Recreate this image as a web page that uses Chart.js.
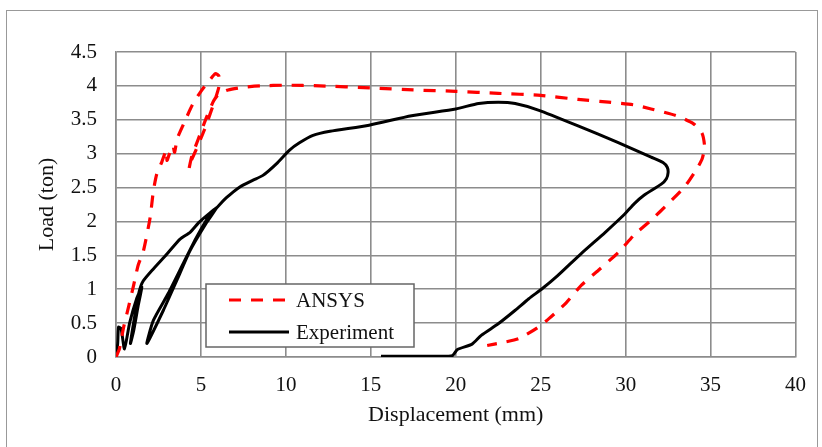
<!DOCTYPE html>
<html>
<head>
<meta charset="utf-8">
<script src="https://cdn.jsdelivr.net/npm/chart.js@4"></script>
<style>
  html, body { margin: 0; padding: 0; background: #fff; }
  canvas { display: block; }
</style>
</head>
<body>
<canvas id="chart" width="822" height="447"></canvas>
<script>
// Load–displacement response: finite-element model vs. laboratory test
const seriesNames = ["ANSYS", "Experiment"];

const ansysDisp = [0, 0.2, 0.45, 0.75, 1.03, 1.3, 1.62, 2.01, 2.2, 2.4, 2.7, 2.9, 2.98, 3.0, 3.15, 3.35, 3.45, 3.6, 4.0, 4.5, 5.0, 5.5, 5.85, 6.05, 6.05, 5.7, 5.2, 4.7, 4.35, 4.3, 4.45, 4.85, 5.35, 5.75, 6.05, 6.6, 7.5, 8.5, 10, 12, 15, 17.5, 20, 22.5, 25, 27.2, 29, 30.5, 31.5, 33, 34, 34.5, 34.65, 34.5, 34.2, 33.5, 32.5, 31.5, 30.5, 29.6, 28.4, 27.4, 26.5, 25.5, 24.8, 23.7, 22.7, 21.85];
const ansysLoad = [0, 0.12, 0.44, 0.75, 1.05, 1.35, 1.57, 2.06, 2.45, 2.7, 2.88, 3.02, 3.05, 2.9, 3.0, 3.12, 3.02, 3.22, 3.45, 3.72, 3.92, 4.08, 4.18, 4.15, 3.98, 3.7, 3.35, 3.05, 2.85, 2.78, 2.95, 3.22, 3.55, 3.78, 3.88, 3.94, 3.98, 4.0, 4.01, 4.0, 3.97, 3.94, 3.92, 3.89, 3.86, 3.8, 3.76, 3.72, 3.66, 3.56, 3.44, 3.3, 3.1, 2.92, 2.78, 2.52, 2.26, 2.02, 1.8, 1.55, 1.28, 1.06, 0.8, 0.57, 0.43, 0.27, 0.21, 0.17];

const expDisp = [0, 0.1, 0.15, 0.3, 0.5, 0.8, 1.2, 1.52, 1.3, 1.05, 0.85, 1.1, 1.35, 1.6, 2.2, 3.0, 3.77, 4.36, 4.9, 5.5, 5.92, 5.3, 4.36, 3.58, 2.79, 1.82, 2.2, 3.08, 3.96, 4.75, 5.53, 5.92, 6.5, 7.29, 8.07, 8.65, 9.44, 10.2, 10.8, 11.6, 12.6, 14.9, 17.4, 20.0, 21.35, 22.5, 23.5, 24.9, 27.2, 29.5, 31.5, 32.2, 32.45, 32.5, 32.4, 32.1, 31.1, 30.5, 29.95, 28.8, 27.4, 26.0, 25.1, 24.3, 23.5, 22.5, 21.5, 20.96, 20.1, 19.8, 19.0, 15.6];
const expLoad = [0, 0.2, 0.44, 0.42, 0.12, 0.5, 0.85, 1.03, 0.75, 0.4, 0.2, 0.6, 0.95, 1.12, 1.3, 1.52, 1.74, 1.84, 1.99, 2.12, 2.2, 1.97, 1.57, 1.13, 0.69, 0.2, 0.54, 0.94, 1.38, 1.77, 2.1, 2.2, 2.35, 2.51, 2.61, 2.68, 2.85, 3.05, 3.16, 3.27, 3.33, 3.42, 3.56, 3.66, 3.74, 3.76, 3.74, 3.64, 3.41, 3.17, 2.95, 2.87, 2.8, 2.72, 2.63, 2.55, 2.39, 2.26, 2.11, 1.84, 1.53, 1.2, 1.01, 0.86, 0.69, 0.49, 0.32, 0.19, 0.11, 0.02, 0.01, 0.01];

const xTickValues = [0, 5, 10, 15, 20, 25, 30, 35, 40];
const yTickValues = [0, 0.5, 1, 1.5, 2, 2.5, 3, 3.5, 4, 4.5];

const toPoints = (xs, ys) => xs.map((x, i) => ({ x: x, y: ys[i] }));

const FONT = "'Liberation Serif', 'Times New Roman', serif";
const GRID = "#8c8c8c";

// White page with a thin outer frame
const framePlugin = {
  id: "frame",
  beforeDraw(chart) {
    const ctx = chart.ctx;
    ctx.save();
    ctx.fillStyle = "#fff";
    ctx.fillRect(0, 0, chart.width, chart.height);
    ctx.strokeStyle = "#999";
    ctx.lineWidth = 1;
    ctx.strokeRect(6.5, 10.5, 811, 460);
    ctx.restore();
  }
};

// Boxed legend placed inside the plot area
const boxLegend = {
  id: "boxLegend",
  afterDraw(chart) {
    const ctx = chart.ctx;
    const x0 = 206, y0 = 284, w = 208, h = 63;
    ctx.save();
    ctx.fillStyle = "#fff";
    ctx.fillRect(x0, y0, w, h);
    ctx.strokeStyle = "#666";
    ctx.lineWidth = 1.5;
    ctx.strokeRect(x0, y0, w, h);
    ctx.font = "21px " + FONT;
    ctx.textBaseline = "middle";
    ctx.fillStyle = "#111";
    chart.data.datasets.forEach((ds, i) => {
      const y = y0 + 16 + i * 32;
      ctx.beginPath();
      ctx.strokeStyle = ds.borderColor;
      ctx.lineWidth = ds.borderWidth;
      ctx.setLineDash(ds.borderDash || []);
      ctx.moveTo(x0 + 23, y);
      ctx.lineTo(x0 + 83, y);
      ctx.stroke();
      ctx.setLineDash([]);
      ctx.fillText(ds.label, x0 + 90, y + 1);
    });
    ctx.restore();
  }
};

new Chart(document.getElementById("chart"), {
  type: "scatter",
  data: {
    datasets: [
      {
        label: seriesNames[0],
        data: toPoints(ansysDisp, ansysLoad),
        showLine: true,
        borderColor: "#ff0000",
        borderWidth: 3.2,
        borderDash: [12, 10],
        pointRadius: 0,
        tension: 0.2,
        fill: false
      },
      {
        label: seriesNames[1],
        data: toPoints(expDisp, expLoad),
        showLine: true,
        borderColor: "#000000",
        borderWidth: 3,
        pointRadius: 0,
        tension: 0.2,
        fill: false
      }
    ]
  },
  options: {
    responsive: false,
    animation: false,
    layout: { padding: { left: 0, right: 24, top: 52, bottom: 0 } },
    plugins: {
      legend: { display: false },
      tooltip: { enabled: false }
    },
    scales: {
      x: {
        type: "linear",
        min: 0,
        max: 40,
        afterBuildTicks: (s) => { s.ticks = xTickValues.map(v => ({ value: v })); },
        afterFit: (s) => { s.height = 90; },
        grid: { color: GRID, lineWidth: 1.6, drawTicks: false },
        border: { color: GRID, width: 1.6 },
        ticks: { color: "#111", font: { family: FONT, size: 21 }, padding: 16, maxRotation: 0, callback: (v) => String(v) },
        title: {
          display: true,
          text: "Displacement (mm)",
          color: "#111",
          font: { family: FONT, size: 22 },
          padding: { top: 0, bottom: 19 }
        }
      },
      y: {
        type: "linear",
        min: 0,
        max: 4.5,
        afterBuildTicks: (s) => { s.ticks = yTickValues.map(v => ({ value: v })); },
        afterFit: (s) => { s.width = 116; },
        grid: { color: GRID, lineWidth: 1.6, drawTicks: false },
        border: { color: GRID, width: 1.6 },
        ticks: { color: "#111", font: { family: FONT, size: 21 }, padding: 19, callback: (v) => String(v) },
        title: {
          display: true,
          text: "Load (ton)",
          color: "#111",
          font: { family: FONT, size: 22 },
          padding: { top: 34, bottom: 0 }
        }
      }
    }
  },
  plugins: [framePlugin, boxLegend]
});
</script>
</body>
</html>
